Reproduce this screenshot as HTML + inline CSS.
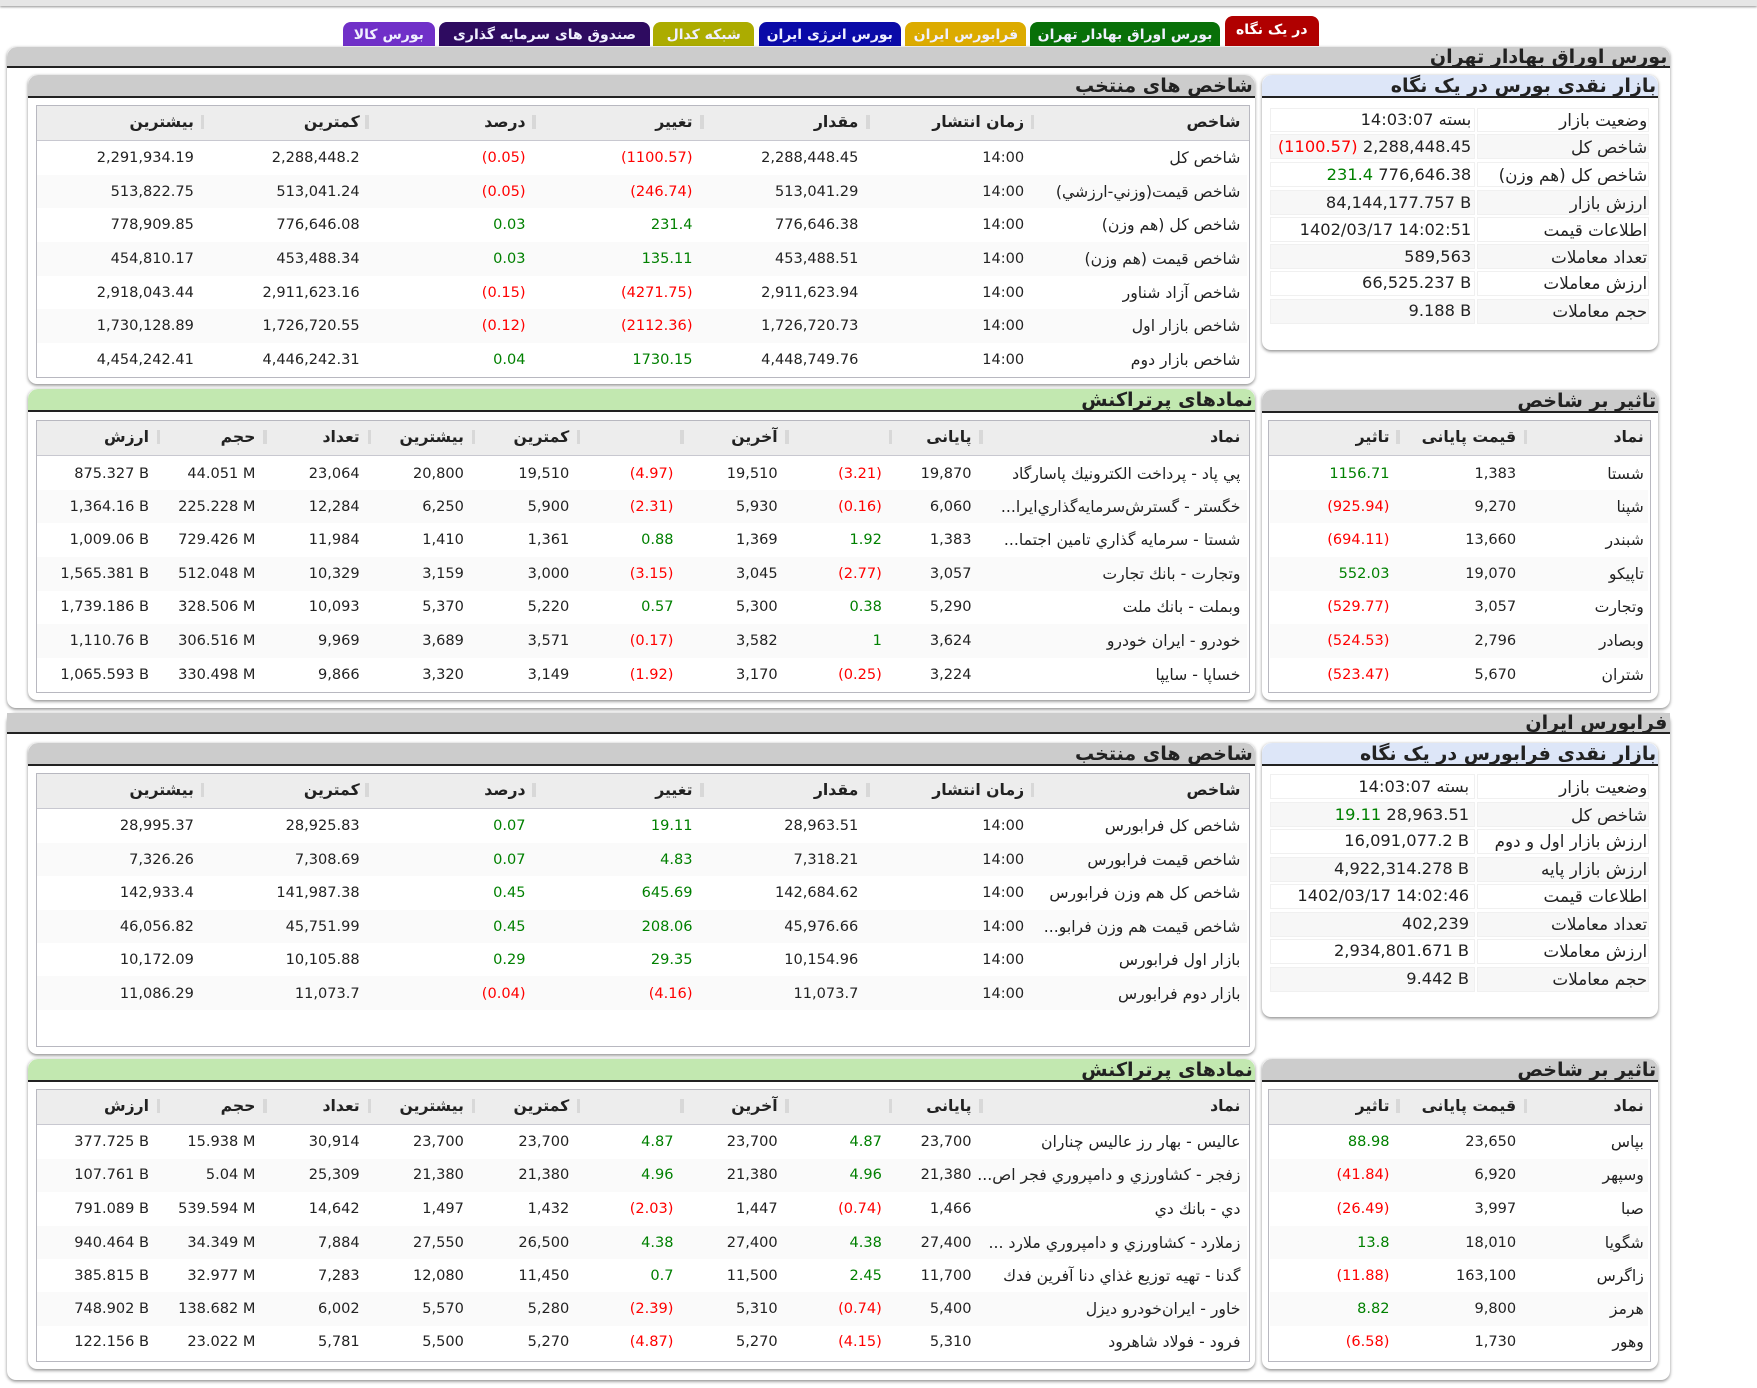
<!DOCTYPE html>
<html><head><meta charset="utf-8">
<style>
html,body{margin:0;padding:0;background:#fff;overflow:hidden}
#w{position:relative;width:1568px;height:1239px;zoom:1.12054;font-family:"DejaVu Sans","Liberation Sans",sans-serif;color:#222}
.a{position:absolute}
.t{position:absolute;white-space:nowrap;line-height:16px;margin-top:-8px;font-size:13px;color:#222}
.m{font-size:14.5px;line-height:18px;margin-top:-9px}
.h{font-weight:bold}
.r{color:#f00}.g{color:#008000}
.rt{direction:rtl;font-size:14px}
.m.rt{font-size:15px}
.box{position:absolute;background:#fff;border-radius:8px;box-shadow:0 1px 3px rgba(0,0,0,.45)}
.ph{position:absolute;height:19px;background:#ccc;border-bottom:2px solid #222;border-radius:9px 9px 0 0}
.ph b{position:absolute;right:2px;top:0;font-size:17px;line-height:20px;direction:rtl;white-space:nowrap}
.tb{position:absolute;border:1px solid #b8b8c0;background:#fff}
.th{position:absolute;left:0;right:0;top:0;height:30px;background:#ededed;border-bottom:1px solid #c8c8d0}
.row{position:absolute;height:30px;background:#fafafa}
.sep{position:absolute;width:3px;height:12px;background:#d8d8d8}
.tab{position:absolute;top:20px;height:21px;border-radius:7px 7px 0 0;color:#f0f0ff;font-weight:bold;font-size:12.5px;line-height:24px;text-align:center;direction:rtl;white-space:nowrap;overflow:hidden}
.c{position:absolute;height:22px;border:1px solid #f0f0f0;box-sizing:border-box}
</style></head><body><div id="w">

<div class="a" style="left:0;top:0;width:1568px;height:5px;background:#e6e6e6;box-shadow:0 1px 2px #999"></div>

<div class="tab" style="left:1093px;top:14px;width:84px;height:27px;background:#b00000;color:#fff;line-height:26px">در یک نگاه</div>
<div class="tab" style="left:919px;width:170px;background:#087008">بورس اوراق بهادار تهران</div>
<div class="tab" style="left:808px;width:108px;background:#dcab00">فرابورس ایران</div>
<div class="tab" style="left:677px;width:127px;background:#0a0aa8">بورس انرژی ایران</div>
<div class="tab" style="left:583px;width:90px;background:#acac00">شبکه کدال</div>
<div class="tab" style="left:392px;width:188px;background:#2e0b60">صندوق های سرمایه گذاری</div>
<div class="tab" style="left:306px;width:82px;background:#7030c8">بورس کالا</div>

<!-- SECTION 1 -->
<div class="box" style="left:6px;top:42px;width:1484px;height:590px;border-radius:8px"></div>
<div class="ph" style="left:6px;top:42px;width:1484px;height:17px"><b style="font-size:17px;line-height:18px">بورس اوراق بهادار تهران</b></div>

<div class="box" style="left:25px;top:67px;width:1095px;height:276px"></div>
<div class="ph" style="left:25px;top:67px;width:1095px"><b>شاخص های منتخب</b></div>
<div class="tb" style="left:32px;top:94px;width:1082px;height:242px"><div class="th"></div></div>
<div class="row" style="left:33px;top:156px;width:1080px"></div>
<div class="row" style="left:33px;top:216px;width:1080px"></div>
<div class="row" style="left:33px;top:276px;width:1080px"></div>
<div class="sep" style="left:920px;top:103px"></div><div class="sep" style="left:773px;top:103px"></div><div class="sep" style="left:625px;top:103px"></div><div class="sep" style="left:475px;top:103px"></div><div class="sep" style="left:326px;top:103px"></div><div class="sep" style="left:179px;top:103px"></div>
<div class="t h rt" style="right:461px;top:109px">شاخص</div><div class="t h rt" style="right:654px;top:109px">زمان انتشار</div><div class="t h rt" style="right:802px;top:109px">مقدار</div><div class="t h rt" style="right:950px;top:109px">تغییر</div><div class="t h rt" style="right:1099px;top:109px">درصد</div><div class="t h rt" style="right:1247px;top:109px">کمترین</div><div class="t h rt" style="right:1395px;top:109px">بیشترین</div>

<div class="t rt" style="right:461px;top:141px">شاخص كل</div><div class="t" style="right:654px;top:141px">14:00</div><div class="t" style="right:802px;top:141px">2,288,448.45</div><div class="t r" style="right:950px;top:141px">(1100.57)</div><div class="t r" style="right:1099px;top:141px">(0.05)</div><div class="t" style="right:1247px;top:141px">2,288,448.2</div><div class="t" style="right:1395px;top:141px">2,291,934.19</div>
<div class="t rt" style="right:461px;top:171px">شاخص قيمت(وزني-ارزشي)</div><div class="t" style="right:654px;top:171px">14:00</div><div class="t" style="right:802px;top:171px">513,041.29</div><div class="t r" style="right:950px;top:171px">(246.74)</div><div class="t r" style="right:1099px;top:171px">(0.05)</div><div class="t" style="right:1247px;top:171px">513,041.24</div><div class="t" style="right:1395px;top:171px">513,822.75</div>
<div class="t rt" style="right:461px;top:201px">شاخص كل (هم وزن)</div><div class="t" style="right:654px;top:201px">14:00</div><div class="t" style="right:802px;top:201px">776,646.38</div><div class="t g" style="right:950px;top:201px">231.4</div><div class="t g" style="right:1099px;top:201px">0.03</div><div class="t" style="right:1247px;top:201px">776,646.08</div><div class="t" style="right:1395px;top:201px">778,909.85</div>
<div class="t rt" style="right:461px;top:231px">شاخص قيمت (هم وزن)</div><div class="t" style="right:654px;top:231px">14:00</div><div class="t" style="right:802px;top:231px">453,488.51</div><div class="t g" style="right:950px;top:231px">135.11</div><div class="t g" style="right:1099px;top:231px">0.03</div><div class="t" style="right:1247px;top:231px">453,488.34</div><div class="t" style="right:1395px;top:231px">454,810.17</div>
<div class="t rt" style="right:461px;top:261px">شاخص آزاد شناور</div><div class="t" style="right:654px;top:261px">14:00</div><div class="t" style="right:802px;top:261px">2,911,623.94</div><div class="t r" style="right:950px;top:261px">(4271.75)</div><div class="t r" style="right:1099px;top:261px">(0.15)</div><div class="t" style="right:1247px;top:261px">2,911,623.16</div><div class="t" style="right:1395px;top:261px">2,918,043.44</div>
<div class="t rt" style="right:461px;top:291px">شاخص بازار اول</div><div class="t" style="right:654px;top:291px">14:00</div><div class="t" style="right:802px;top:291px">1,726,720.73</div><div class="t r" style="right:950px;top:291px">(2112.36)</div><div class="t r" style="right:1099px;top:291px">(0.12)</div><div class="t" style="right:1247px;top:291px">1,726,720.55</div><div class="t" style="right:1395px;top:291px">1,730,128.89</div>
<div class="t rt" style="right:461px;top:321px">شاخص بازار دوم</div><div class="t" style="right:654px;top:321px">14:00</div><div class="t" style="right:802px;top:321px">4,448,749.76</div><div class="t g" style="right:950px;top:321px">1730.15</div><div class="t g" style="right:1099px;top:321px">0.04</div><div class="t" style="right:1247px;top:321px">4,446,242.31</div><div class="t" style="right:1395px;top:321px">4,454,242.41</div>

<div class="box" style="left:1126px;top:67px;width:354px;height:245px"></div>
<div class="ph" style="left:1126px;top:67px;width:354px;background:#dde6f8"><b>بازار نقدی بورس در یک نگاه</b></div>
<div class="c" style="left:1318px;top:96px;width:154px"></div><div class="c" style="left:1133px;top:96px;width:183px"></div>
<div class="c" style="left:1318px;top:120px;width:154px;background:#f7f7f7"></div><div class="c" style="left:1133px;top:120px;width:183px;background:#f7f7f7"></div>
<div class="c" style="left:1318px;top:145px;width:154px"></div><div class="c" style="left:1133px;top:145px;width:183px"></div>
<div class="c" style="left:1318px;top:170px;width:154px;background:#f7f7f7"></div><div class="c" style="left:1133px;top:170px;width:183px;background:#f7f7f7"></div>
<div class="c" style="left:1318px;top:194px;width:154px"></div><div class="c" style="left:1133px;top:194px;width:183px"></div>
<div class="c" style="left:1318px;top:218px;width:154px;background:#f7f7f7"></div><div class="c" style="left:1133px;top:218px;width:183px;background:#f7f7f7"></div>
<div class="c" style="left:1318px;top:242px;width:154px"></div><div class="c" style="left:1133px;top:242px;width:183px"></div>
<div class="c" style="left:1318px;top:267px;width:154px;background:#f7f7f7"></div><div class="c" style="left:1133px;top:267px;width:183px;background:#f7f7f7"></div>
<div class="t m rt" style="right:98px;top:107px">وضعیت بازار</div><div class="t m" style="right:255px;top:107px">14:03:07 بسته</div>
<div class="t m rt" style="right:98px;top:131px">شاخص کل</div><div class="t m" style="right:255px;top:131px"><span class="r">(1100.57)</span> 2,288,448.45</div>
<div class="t m rt" style="right:98px;top:156px">شاخص کل (هم وزن)</div><div class="t m" style="right:255px;top:156px"><span class="g">231.4</span> 776,646.38</div>
<div class="t m rt" style="right:98px;top:181px">ارزش بازار</div><div class="t m" style="right:255px;top:181px">84,144,177.757 B</div>
<div class="t m rt" style="right:98px;top:205px">اطلاعات قیمت</div><div class="t m" style="right:255px;top:205px">1402/03/17 14:02:51</div>
<div class="t m rt" style="right:98px;top:229px">تعداد معاملات</div><div class="t m" style="right:255px;top:229px">589,563</div>
<div class="t m rt" style="right:98px;top:253px">ارزش معاملات</div><div class="t m" style="right:255px;top:253px">66,525.237 B</div>
<div class="t m rt" style="right:98px;top:278px">حجم معاملات</div><div class="t m" style="right:255px;top:278px">9.188 B</div>

<div class="box" style="left:25px;top:347px;width:1095px;height:278px"></div>
<div class="ph" style="left:25px;top:347px;width:1095px;background:#c2e8b0"><b>نمادهای پرتراکنش</b></div>
<div class="tb" style="left:32px;top:375px;width:1082px;height:242px"><div class="th"></div></div>
<div class="row" style="left:33px;top:437px;width:1080px"></div><div class="row" style="left:33px;top:497px;width:1080px"></div><div class="row" style="left:33px;top:557px;width:1080px"></div>
<div class="sep" style="left:874px;top:384px"></div><div class="sep" style="left:793px;top:384px"></div><div class="sep" style="left:701px;top:384px"></div><div class="sep" style="left:607px;top:384px"></div><div class="sep" style="left:515px;top:384px"></div><div class="sep" style="left:421px;top:384px"></div><div class="sep" style="left:328px;top:384px"></div><div class="sep" style="left:235px;top:384px"></div><div class="sep" style="left:140px;top:384px"></div>
<div class="t h rt" style="right:461px;top:390px">نماد</div><div class="t h rt" style="right:701px;top:390px">پایانی</div><div class="t h rt" style="right:874px;top:390px">آخرین</div><div class="t h rt" style="right:1060px;top:390px">کمترین</div><div class="t h rt" style="right:1154px;top:390px">بیشترین</div><div class="t h rt" style="right:1247px;top:390px">تعداد</div><div class="t h rt" style="right:1340px;top:390px">حجم</div><div class="t h rt" style="right:1435px;top:390px">ارزش</div>

<div class="t rt" style="right:461px;top:423px">پي پاد - پرداخت الكترونيك پاسارگاد</div><div class="t" style="right:701px;top:423px">19,870</div><div class="t r" style="right:781px;top:423px">(3.21)</div><div class="t" style="right:874px;top:423px">19,510</div><div class="t r" style="right:967px;top:423px">(4.97)</div><div class="t" style="right:1060px;top:423px">19,510</div><div class="t" style="right:1154px;top:423px">20,800</div><div class="t" style="right:1247px;top:423px">23,064</div><div class="t" style="right:1340px;top:423px">44.051 M</div><div class="t" style="right:1435px;top:423px">875.327 B</div>
<div class="t rt" style="right:461px;top:452px">خگستر - گسترش‌سرمايه‌گذاري‌ايرا...</div><div class="t" style="right:701px;top:452px">6,060</div><div class="t r" style="right:781px;top:452px">(0.16)</div><div class="t" style="right:874px;top:452px">5,930</div><div class="t r" style="right:967px;top:452px">(2.31)</div><div class="t" style="right:1060px;top:452px">5,900</div><div class="t" style="right:1154px;top:452px">6,250</div><div class="t" style="right:1247px;top:452px">12,284</div><div class="t" style="right:1340px;top:452px">225.228 M</div><div class="t" style="right:1435px;top:452px">1,364.16 B</div>
<div class="t rt" style="right:461px;top:482px">شستا - سرمايه گذاري تامين اجتما...</div><div class="t" style="right:701px;top:482px">1,383</div><div class="t g" style="right:781px;top:482px">1.92</div><div class="t" style="right:874px;top:482px">1,369</div><div class="t g" style="right:967px;top:482px">0.88</div><div class="t" style="right:1060px;top:482px">1,361</div><div class="t" style="right:1154px;top:482px">1,410</div><div class="t" style="right:1247px;top:482px">11,984</div><div class="t" style="right:1340px;top:482px">729.426 M</div><div class="t" style="right:1435px;top:482px">1,009.06 B</div>
<div class="t rt" style="right:461px;top:512px">وتجارت - بانك تجارت</div><div class="t" style="right:701px;top:512px">3,057</div><div class="t r" style="right:781px;top:512px">(2.77)</div><div class="t" style="right:874px;top:512px">3,045</div><div class="t r" style="right:967px;top:512px">(3.15)</div><div class="t" style="right:1060px;top:512px">3,000</div><div class="t" style="right:1154px;top:512px">3,159</div><div class="t" style="right:1247px;top:512px">10,329</div><div class="t" style="right:1340px;top:512px">512.048 M</div><div class="t" style="right:1435px;top:512px">1,565.381 B</div>
<div class="t rt" style="right:461px;top:542px">وبملت - بانك ملت</div><div class="t" style="right:701px;top:542px">5,290</div><div class="t g" style="right:781px;top:542px">0.38</div><div class="t" style="right:874px;top:542px">5,300</div><div class="t g" style="right:967px;top:542px">0.57</div><div class="t" style="right:1060px;top:542px">5,220</div><div class="t" style="right:1154px;top:542px">5,370</div><div class="t" style="right:1247px;top:542px">10,093</div><div class="t" style="right:1340px;top:542px">328.506 M</div><div class="t" style="right:1435px;top:542px">1,739.186 B</div>
<div class="t rt" style="right:461px;top:572px">خودرو - ايران‌ خودرو</div><div class="t" style="right:701px;top:572px">3,624</div><div class="t g" style="right:781px;top:572px">1</div><div class="t" style="right:874px;top:572px">3,582</div><div class="t r" style="right:967px;top:572px">(0.17)</div><div class="t" style="right:1060px;top:572px">3,571</div><div class="t" style="right:1154px;top:572px">3,689</div><div class="t" style="right:1247px;top:572px">9,969</div><div class="t" style="right:1340px;top:572px">306.516 M</div><div class="t" style="right:1435px;top:572px">1,110.76 B</div>
<div class="t rt" style="right:461px;top:602px">خساپا - سايپا</div><div class="t" style="right:701px;top:602px">3,224</div><div class="t r" style="right:781px;top:602px">(0.25)</div><div class="t" style="right:874px;top:602px">3,170</div><div class="t r" style="right:967px;top:602px">(1.92)</div><div class="t" style="right:1060px;top:602px">3,149</div><div class="t" style="right:1154px;top:602px">3,320</div><div class="t" style="right:1247px;top:602px">9,866</div><div class="t" style="right:1340px;top:602px">330.498 M</div><div class="t" style="right:1435px;top:602px">1,065.593 B</div>

<div class="box" style="left:1126px;top:348px;width:354px;height:277px"></div>
<div class="ph" style="left:1126px;top:348px;width:354px"><b>تاثیر بر شاخص</b></div>
<div class="tb" style="left:1132px;top:375px;width:340px;height:242px"><div class="th"></div></div>
<div class="row" style="left:1133px;top:437px;width:338px"></div><div class="row" style="left:1133px;top:497px;width:338px"></div><div class="row" style="left:1133px;top:557px;width:338px"></div>
<div class="sep" style="left:1360px;top:384px"></div><div class="sep" style="left:1246px;top:384px"></div>
<div class="t h rt" style="right:101px;top:390px">نماد</div><div class="t h rt" style="right:215px;top:390px">قیمت پایانی</div><div class="t h rt" style="right:328px;top:390px">تاثیر</div>
<div class="t rt" style="right:101px;top:423px">شستا</div><div class="t" style="right:215px;top:423px">1,383</div><div class="t g" style="right:328px;top:423px">1156.71</div>
<div class="t rt" style="right:101px;top:452px">شپنا</div><div class="t" style="right:215px;top:452px">9,270</div><div class="t r" style="right:328px;top:452px">(925.94)</div>
<div class="t rt" style="right:101px;top:482px">شبندر</div><div class="t" style="right:215px;top:482px">13,660</div><div class="t r" style="right:328px;top:482px">(694.11)</div>
<div class="t rt" style="right:101px;top:512px">تاپیکو</div><div class="t" style="right:215px;top:512px">19,070</div><div class="t g" style="right:328px;top:512px">552.03</div>
<div class="t rt" style="right:101px;top:542px">وتجارت</div><div class="t" style="right:215px;top:542px">3,057</div><div class="t r" style="right:328px;top:542px">(529.77)</div>
<div class="t rt" style="right:101px;top:572px">وبصادر</div><div class="t" style="right:215px;top:572px">2,796</div><div class="t r" style="right:328px;top:572px">(524.53)</div>
<div class="t rt" style="right:101px;top:602px">شتران</div><div class="t" style="right:215px;top:602px">5,670</div><div class="t r" style="right:328px;top:602px">(523.47)</div>

<!-- SECTION 2 -->
<div class="box" style="left:6px;top:636px;width:1484px;height:596px"></div>
<div class="ph" style="left:6px;top:636px;width:1484px;height:17px;border-radius:0"><b style="font-size:17px;line-height:18px">فرابورس ایران</b></div>

<div class="box" style="left:25px;top:663px;width:1095px;height:278px"></div>
<div class="ph" style="left:25px;top:663px;width:1095px"><b>شاخص های منتخب</b></div>
<div class="tb" style="left:32px;top:690px;width:1082px;height:243px"><div class="th"></div></div>
<div class="row" style="left:33px;top:752px;width:1080px"></div><div class="row" style="left:33px;top:812px;width:1080px"></div><div class="row" style="left:33px;top:871px;width:1080px"></div>
<div class="sep" style="left:920px;top:699px"></div><div class="sep" style="left:773px;top:699px"></div><div class="sep" style="left:625px;top:699px"></div><div class="sep" style="left:475px;top:699px"></div><div class="sep" style="left:326px;top:699px"></div><div class="sep" style="left:179px;top:699px"></div>
<div class="t h rt" style="right:461px;top:705px">شاخص</div><div class="t h rt" style="right:654px;top:705px">زمان انتشار</div><div class="t h rt" style="right:802px;top:705px">مقدار</div><div class="t h rt" style="right:950px;top:705px">تغییر</div><div class="t h rt" style="right:1099px;top:705px">درصد</div><div class="t h rt" style="right:1247px;top:705px">کمترین</div><div class="t h rt" style="right:1395px;top:705px">بیشترین</div>
<div class="t rt" style="right:461px;top:737px">شاخص كل فرابورس</div><div class="t" style="right:654px;top:737px">14:00</div><div class="t" style="right:802px;top:737px">28,963.51</div><div class="t g" style="right:950px;top:737px">19.11</div><div class="t g" style="right:1099px;top:737px">0.07</div><div class="t" style="right:1247px;top:737px">28,925.83</div><div class="t" style="right:1395px;top:737px">28,995.37</div>
<div class="t rt" style="right:461px;top:767px">شاخص قیمت فرابورس</div><div class="t" style="right:654px;top:767px">14:00</div><div class="t" style="right:802px;top:767px">7,318.21</div><div class="t g" style="right:950px;top:767px">4.83</div><div class="t g" style="right:1099px;top:767px">0.07</div><div class="t" style="right:1247px;top:767px">7,308.69</div><div class="t" style="right:1395px;top:767px">7,326.26</div>
<div class="t rt" style="right:461px;top:797px">شاخص کل هم وزن فرابورس</div><div class="t" style="right:654px;top:797px">14:00</div><div class="t" style="right:802px;top:797px">142,684.62</div><div class="t g" style="right:950px;top:797px">645.69</div><div class="t g" style="right:1099px;top:797px">0.45</div><div class="t" style="right:1247px;top:797px">141,987.38</div><div class="t" style="right:1395px;top:797px">142,933.4</div>
<div class="t rt" style="right:461px;top:827px">شاخص قیمت هم وزن فرابو...</div><div class="t" style="right:654px;top:827px">14:00</div><div class="t" style="right:802px;top:827px">45,976.66</div><div class="t g" style="right:950px;top:827px">208.06</div><div class="t g" style="right:1099px;top:827px">0.45</div><div class="t" style="right:1247px;top:827px">45,751.99</div><div class="t" style="right:1395px;top:827px">46,056.82</div>
<div class="t rt" style="right:461px;top:857px">بازار اول فرابورس</div><div class="t" style="right:654px;top:857px">14:00</div><div class="t" style="right:802px;top:857px">10,154.96</div><div class="t g" style="right:950px;top:857px">29.35</div><div class="t g" style="right:1099px;top:857px">0.29</div><div class="t" style="right:1247px;top:857px">10,105.88</div><div class="t" style="right:1395px;top:857px">10,172.09</div>
<div class="t rt" style="right:461px;top:887px">بازار دوم فرابورس</div><div class="t" style="right:654px;top:887px">14:00</div><div class="t" style="right:802px;top:887px">11,073.7</div><div class="t r" style="right:950px;top:887px">(4.16)</div><div class="t r" style="right:1099px;top:887px">(0.04)</div><div class="t" style="right:1247px;top:887px">11,073.7</div><div class="t" style="right:1395px;top:887px">11,086.29</div>

<div class="box" style="left:1126px;top:663px;width:354px;height:245px"></div>
<div class="ph" style="left:1126px;top:663px;width:354px;background:#dde6f8"><b>بازار نقدی فرابورس در یک نگاه</b></div>
<div class="c" style="left:1318px;top:691px;width:154px"></div><div class="c" style="left:1133px;top:691px;width:183px"></div>
<div class="c" style="left:1318px;top:716px;width:154px;background:#f7f7f7"></div><div class="c" style="left:1133px;top:716px;width:183px;background:#f7f7f7"></div>
<div class="c" style="left:1318px;top:740px;width:154px"></div><div class="c" style="left:1133px;top:740px;width:183px"></div>
<div class="c" style="left:1318px;top:765px;width:154px;background:#f7f7f7"></div><div class="c" style="left:1133px;top:765px;width:183px;background:#f7f7f7"></div>
<div class="c" style="left:1318px;top:789px;width:154px"></div><div class="c" style="left:1133px;top:789px;width:183px"></div>
<div class="c" style="left:1318px;top:814px;width:154px;background:#f7f7f7"></div><div class="c" style="left:1133px;top:814px;width:183px;background:#f7f7f7"></div>
<div class="c" style="left:1318px;top:838px;width:154px"></div><div class="c" style="left:1133px;top:838px;width:183px"></div>
<div class="c" style="left:1318px;top:863px;width:154px;background:#f7f7f7"></div><div class="c" style="left:1133px;top:863px;width:183px;background:#f7f7f7"></div>
<div class="t m rt" style="right:98px;top:702px">وضعیت بازار</div><div class="t m" style="right:257px;top:702px">14:03:07 بسته</div>
<div class="t m rt" style="right:98px;top:727px">شاخص کل</div><div class="t m" style="right:257px;top:727px"><span class="g">19.11</span> 28,963.51</div>
<div class="t m rt" style="right:98px;top:751px">ارزش بازار اول و دوم</div><div class="t m" style="right:257px;top:751px">16,091,077.2 B</div>
<div class="t m rt" style="right:98px;top:776px">ارزش بازار پایه</div><div class="t m" style="right:257px;top:776px">4,922,314.278 B</div>
<div class="t m rt" style="right:98px;top:800px">اطلاعات قیمت</div><div class="t m" style="right:257px;top:800px">1402/03/17 14:02:46</div>
<div class="t m rt" style="right:98px;top:825px">تعداد معاملات</div><div class="t m" style="right:257px;top:825px">402,239</div>
<div class="t m rt" style="right:98px;top:849px">ارزش معاملات</div><div class="t m" style="right:257px;top:849px">2,934,801.671 B</div>
<div class="t m rt" style="right:98px;top:874px">حجم معاملات</div><div class="t m" style="right:257px;top:874px">9.442 B</div>

<div class="box" style="left:25px;top:945px;width:1095px;height:277px"></div>
<div class="ph" style="left:25px;top:945px;width:1095px;background:#c2e8b0"><b>نمادهای پرتراکنش</b></div>
<div class="tb" style="left:32px;top:972px;width:1082px;height:242px"><div class="th"></div></div>
<div class="row" style="left:33px;top:1034px;width:1080px"></div><div class="row" style="left:33px;top:1094px;width:1080px"></div><div class="row" style="left:33px;top:1153px;width:1080px"></div>
<div class="sep" style="left:874px;top:981px"></div><div class="sep" style="left:793px;top:981px"></div><div class="sep" style="left:701px;top:981px"></div><div class="sep" style="left:607px;top:981px"></div><div class="sep" style="left:515px;top:981px"></div><div class="sep" style="left:421px;top:981px"></div><div class="sep" style="left:328px;top:981px"></div><div class="sep" style="left:235px;top:981px"></div><div class="sep" style="left:140px;top:981px"></div>
<div class="t h rt" style="right:461px;top:987px">نماد</div><div class="t h rt" style="right:701px;top:987px">پایانی</div><div class="t h rt" style="right:874px;top:987px">آخرین</div><div class="t h rt" style="right:1060px;top:987px">کمترین</div><div class="t h rt" style="right:1154px;top:987px">بیشترین</div><div class="t h rt" style="right:1247px;top:987px">تعداد</div><div class="t h rt" style="right:1340px;top:987px">حجم</div><div class="t h rt" style="right:1435px;top:987px">ارزش</div>

<div class="t rt" style="right:461px;top:1019px">عاليس - بهار رز عاليس چناران</div><div class="t" style="right:701px;top:1019px">23,700</div><div class="t g" style="right:781px;top:1019px">4.87</div><div class="t" style="right:874px;top:1019px">23,700</div><div class="t g" style="right:967px;top:1019px">4.87</div><div class="t" style="right:1060px;top:1019px">23,700</div><div class="t" style="right:1154px;top:1019px">23,700</div><div class="t" style="right:1247px;top:1019px">30,914</div><div class="t" style="right:1340px;top:1019px">15.938 M</div><div class="t" style="right:1435px;top:1019px">377.725 B</div>
<div class="t rt" style="right:461px;top:1049px">زفجر - كشاورزي و دامپروري فجر اص...</div><div class="t" style="right:701px;top:1049px">21,380</div><div class="t g" style="right:781px;top:1049px">4.96</div><div class="t" style="right:874px;top:1049px">21,380</div><div class="t g" style="right:967px;top:1049px">4.96</div><div class="t" style="right:1060px;top:1049px">21,380</div><div class="t" style="right:1154px;top:1049px">21,380</div><div class="t" style="right:1247px;top:1049px">25,309</div><div class="t" style="right:1340px;top:1049px">5.04 M</div><div class="t" style="right:1435px;top:1049px">107.761 B</div>
<div class="t rt" style="right:461px;top:1079px">دي - بانك دي</div><div class="t" style="right:701px;top:1079px">1,466</div><div class="t r" style="right:781px;top:1079px">(0.74)</div><div class="t" style="right:874px;top:1079px">1,447</div><div class="t r" style="right:967px;top:1079px">(2.03)</div><div class="t" style="right:1060px;top:1079px">1,432</div><div class="t" style="right:1154px;top:1079px">1,497</div><div class="t" style="right:1247px;top:1079px">14,642</div><div class="t" style="right:1340px;top:1079px">539.594 M</div><div class="t" style="right:1435px;top:1079px">791.089 B</div>
<div class="t rt" style="right:461px;top:1109px">زملارد - كشاورزي و دامپروري ملارد ...</div><div class="t" style="right:701px;top:1109px">27,400</div><div class="t g" style="right:781px;top:1109px">4.38</div><div class="t" style="right:874px;top:1109px">27,400</div><div class="t g" style="right:967px;top:1109px">4.38</div><div class="t" style="right:1060px;top:1109px">26,500</div><div class="t" style="right:1154px;top:1109px">27,550</div><div class="t" style="right:1247px;top:1109px">7,884</div><div class="t" style="right:1340px;top:1109px">34.349 M</div><div class="t" style="right:1435px;top:1109px">940.464 B</div>
<div class="t rt" style="right:461px;top:1139px">گدنا - تهيه توزيع غذاي دنا آفرين فدك</div><div class="t" style="right:701px;top:1139px">11,700</div><div class="t g" style="right:781px;top:1139px">2.45</div><div class="t" style="right:874px;top:1139px">11,500</div><div class="t g" style="right:967px;top:1139px">0.7</div><div class="t" style="right:1060px;top:1139px">11,450</div><div class="t" style="right:1154px;top:1139px">12,080</div><div class="t" style="right:1247px;top:1139px">7,283</div><div class="t" style="right:1340px;top:1139px">32.977 M</div><div class="t" style="right:1435px;top:1139px">385.815 B</div>
<div class="t rt" style="right:461px;top:1168px">خاور - ايران‌خودرو ديزل</div><div class="t" style="right:701px;top:1168px">5,400</div><div class="t r" style="right:781px;top:1168px">(0.74)</div><div class="t" style="right:874px;top:1168px">5,310</div><div class="t r" style="right:967px;top:1168px">(2.39)</div><div class="t" style="right:1060px;top:1168px">5,280</div><div class="t" style="right:1154px;top:1168px">5,570</div><div class="t" style="right:1247px;top:1168px">6,002</div><div class="t" style="right:1340px;top:1168px">138.682 M</div><div class="t" style="right:1435px;top:1168px">748.902 B</div>
<div class="t rt" style="right:461px;top:1198px">فرود - فولاد شاهرود</div><div class="t" style="right:701px;top:1198px">5,310</div><div class="t r" style="right:781px;top:1198px">(4.15)</div><div class="t" style="right:874px;top:1198px">5,270</div><div class="t r" style="right:967px;top:1198px">(4.87)</div><div class="t" style="right:1060px;top:1198px">5,270</div><div class="t" style="right:1154px;top:1198px">5,500</div><div class="t" style="right:1247px;top:1198px">5,781</div><div class="t" style="right:1340px;top:1198px">23.022 M</div><div class="t" style="right:1435px;top:1198px">122.156 B</div>

<div class="box" style="left:1126px;top:945px;width:354px;height:277px"></div>
<div class="ph" style="left:1126px;top:945px;width:354px"><b>تاثیر بر شاخص</b></div>
<div class="tb" style="left:1132px;top:972px;width:340px;height:242px"><div class="th"></div></div>
<div class="row" style="left:1133px;top:1034px;width:338px"></div><div class="row" style="left:1133px;top:1094px;width:338px"></div><div class="row" style="left:1133px;top:1153px;width:338px"></div>
<div class="sep" style="left:1360px;top:981px"></div><div class="sep" style="left:1246px;top:981px"></div>
<div class="t h rt" style="right:101px;top:987px">نماد</div><div class="t h rt" style="right:215px;top:987px">قیمت پایانی</div><div class="t h rt" style="right:328px;top:987px">تاثیر</div>
<div class="t rt" style="right:101px;top:1019px">بپاس</div><div class="t" style="right:215px;top:1019px">23,650</div><div class="t g" style="right:328px;top:1019px">88.98</div>
<div class="t rt" style="right:101px;top:1049px">وسپهر</div><div class="t" style="right:215px;top:1049px">6,920</div><div class="t r" style="right:328px;top:1049px">(41.84)</div>
<div class="t rt" style="right:101px;top:1079px">صبا</div><div class="t" style="right:215px;top:1079px">3,997</div><div class="t r" style="right:328px;top:1079px">(26.49)</div>
<div class="t rt" style="right:101px;top:1109px">شگویا</div><div class="t" style="right:215px;top:1109px">18,010</div><div class="t g" style="right:328px;top:1109px">13.8</div>
<div class="t rt" style="right:101px;top:1139px">زاگرس</div><div class="t" style="right:215px;top:1139px">163,100</div><div class="t r" style="right:328px;top:1139px">(11.88)</div>
<div class="t rt" style="right:101px;top:1168px">هرمز</div><div class="t" style="right:215px;top:1168px">9,800</div><div class="t g" style="right:328px;top:1168px">8.82</div>
<div class="t rt" style="right:101px;top:1198px">وهور</div><div class="t" style="right:215px;top:1198px">1,730</div><div class="t r" style="right:328px;top:1198px">(6.58)</div>

</div></body></html>
